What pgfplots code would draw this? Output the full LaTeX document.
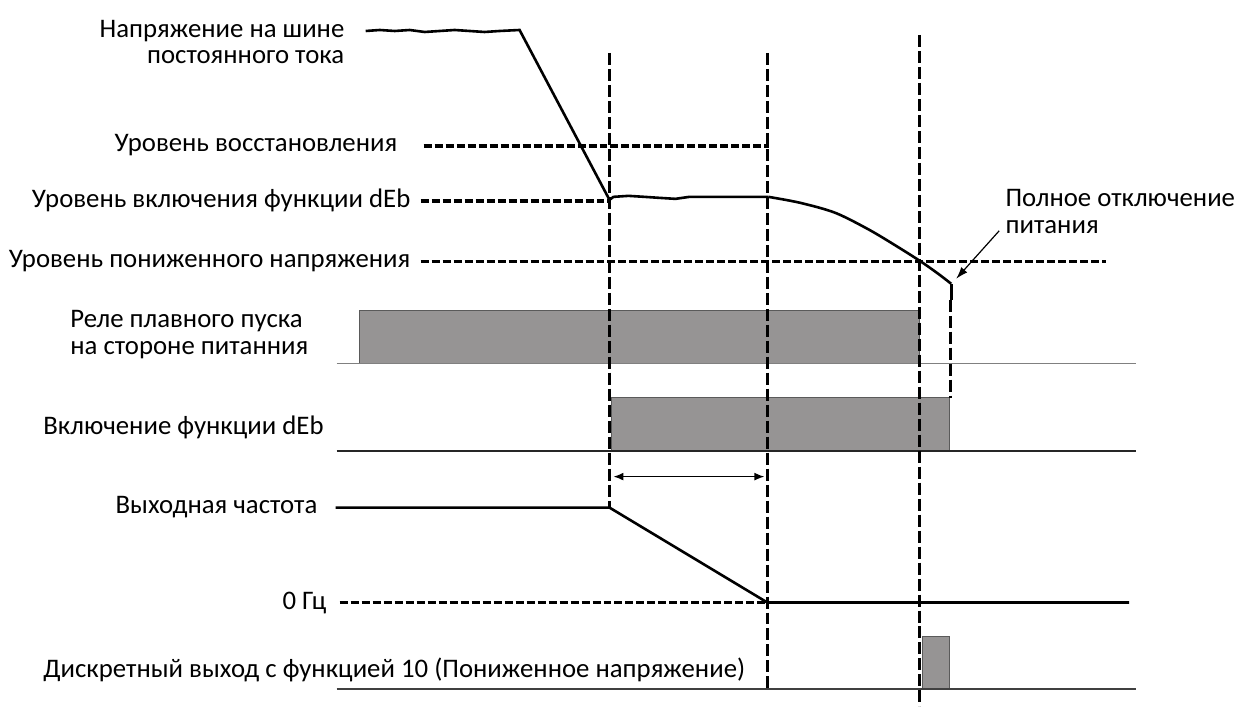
\documentclass[border=0pt]{standalone}
\usepackage{fontspec}
\setmainfont{Carlito}
\usepackage{pgfplots}
\pgfplotsset{compat=1.18}
\usetikzlibrary{arrows.meta}
\definecolor{barfill}{RGB}{150,148,148}
\definecolor{edge}{RGB}{90,90,90}

\begin{document}
\begin{tikzpicture}[
  lbl/.style={font=\fontsize{13.4}{13.4}\selectfont, inner sep=0pt},
  lvl/.style={black, line width=1.7pt, dash pattern=on 4pt off 1.5pt},
  vln/.style={black, line width=1.4pt, dash pattern=on 6pt off 2pt},
  sig/.style={black, line width=1.3pt},
]
\begin{axis}[
    x=0.5pt, y=0.5pt, y dir=reverse,
    xmin=0, xmax=1235, ymin=0, ymax=709,
    hide axis, clip=false,
    anchor=north west, at={(0,0)},
]
% frame of the picture (invisible)
\addplot[draw=none, forget plot] coordinates {(0,0) (1235,709)};

% bars
\addplot[fill=barfill, draw=edge, line width=0.5pt] coordinates {(360,364) (360,311) (920,311) (920,364)} -- cycle;
\addplot[fill=barfill, draw=edge, line width=0.5pt] coordinates {(612,451) (612,398) (950,398) (950,451)} -- cycle;
\addplot[fill=barfill, draw=edge, line width=0.5pt] coordinates {(923,690) (923,637) (950,637) (950,690)} -- cycle;

% baselines
\addplot[gray, line width=0.6pt] coordinates {(337,364) (1137,364)};
\addplot[black!85, line width=1.1pt] coordinates {(337,451) (1137,451)};
\addplot[black!75, line width=1.0pt] coordinates {(337,690) (1137,690)};

% level lines
\addplot[lvl] coordinates {(424,146) (770,146)};
\addplot[lvl] coordinates {(421,201) (610,201)};
\addplot[lvl] coordinates {(421,262) (1107,262)};
\addplot[lvl] coordinates {(340,603) (768,603)};

% vertical markers
\addplot[vln] coordinates {(610,53) (610,507)};
\addplot[vln] coordinates {(768,53) (768,689)};
\addplot[vln] coordinates {(920,35) (920,707)};
\addplot[vln] coordinates {(951,300) (951,398)};

% DC bus voltage
\addplot[sig] coordinates {
  (366,31) (380,30) (395,31) (410,30) (425,32) (440,31) (455,30)
  (470,31) (485,32) (500,31) (520,30) (610,200) (614,197) (629,196)
  (645,197) (660,198) (676,199) (690,197) (705,197) (769,197)};
\addplot[sig, smooth] coordinates {
  (769,197) (801,203) (836,213) (870,230) (900,248) (922,262) (939,274) (952,284)};
\addplot[sig] coordinates {(952,284) (952,300)};

% output frequency
\addplot[sig] coordinates {(336,508) (610,508) (768,603) (1130,603)};

% time interval arrow
\addplot[black, line width=0.7pt, {Latex[length=5pt,width=4pt]}-{Latex[length=5pt,width=4pt]}] coordinates {(614,477) (765,477)};

% power loss arrow
\addplot[black, line width=0.6pt, -{Latex[length=6pt,width=4pt]}] coordinates {(1000,231) (957,279)};

% labels
\node[lbl, anchor=east, align=right] at (axis cs:345,42) {Напряжение на шине\\[0pt]постоянного тока};
\node[lbl, anchor=east] at (axis cs:398,145) {Уровень восстановления};
\node[lbl, anchor=east] at (axis cs:411,201) {Уровень включения функции dEb};
\node[lbl, anchor=east] at (axis cs:411,261) {Уровень пониженного напряжения};
\node[lbl, anchor=west, align=left] at (axis cs:70,335) {Реле плавного пуска\\[0pt]на стороне питанния};
\node[lbl, anchor=west] at (axis cs:43,428) {Включение функции dEb};
\node[lbl, anchor=east] at (axis cs:318,508) {Выходная частота};
\node[lbl, anchor=east] at (axis cs:327,603) {0 Гц};
\node[lbl, anchor=west] at (axis cs:43,670) {Дискретный выход с функцией 10 (Пониженное напряжение)};
\node[lbl, anchor=west, align=left] at (axis cs:1006,212) {Полное отключение\\[0pt]питания};
\end{axis}
\end{tikzpicture}
\end{document}
